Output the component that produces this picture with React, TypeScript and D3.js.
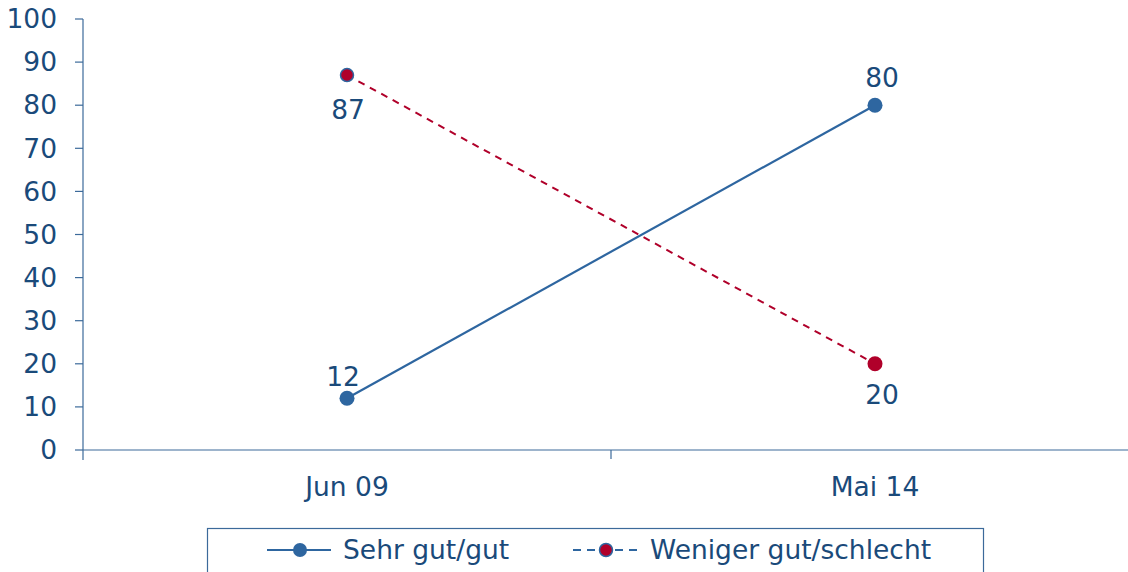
import React from "react";
import * as d3 from "d3";

const categories = ["Jun 09", "Mai 14"];
const seriesNames = ["Sehr gut/gut", "Weniger gut/schlecht"];
const sehrGut = [12, 80];
const weniger = [87, 20];
const yTicks = [0, 10, 20, 30, 40, 50, 60, 70, 80, 90, 100];

const W = 1128;
const H = 572;
const TEXT = "#1a4a7a";
const BLUE = "#2e66a0";
const RED = "#b0002a";
const AXIS = "#3c6a9a";
const FONT = "'DejaVu Sans', Verdana, sans-serif";

export default function App() {
  const left = 83;
  const x = d3.scaleBand<string>().domain(categories).range([left, left + 1056]);
  const y = d3.scaleLinear().domain([0, 100]).range([450, 19]);
  const cx = (c: string) => (x(c) as number) + x.bandwidth() / 2;
  const line = d3
    .line<number>()
    .x((_, i) => cx(categories[i]))
    .y((d) => y(d));

  const fs = 26.5;
  const aboveOff = [-22, -27];
  const belowOff = [35, 31];
  return (
    <svg width={W} height={H} style={{ position: "absolute", left: 0, top: 0 }} fontFamily={FONT}>
      <rect width={W} height={H} fill="#fff" />
      {/* y axis */}
      <line x1={left} x2={left} y1={y(100)} y2={y(0) + 10} stroke={AXIS} strokeWidth={1.2} />
      {yTicks.map((t) => (
        <g key={t}>
          <line x1={left - 8} x2={left} y1={y(t)} y2={y(t)} stroke={AXIS} strokeWidth={1.2} />
          <text x={57} y={y(t)} dy="0.35em" textAnchor="end" fontSize={fs} fill={TEXT}>
            {t}
          </text>
        </g>
      ))}
      {/* x axis */}
      <line x1={left} x2={W} y1={y(0)} y2={y(0)} stroke={AXIS} strokeWidth={1.2} />
      {categories.map((c, i) => (
        <g key={c}>
          {i > 0 && (
            <line x1={x(c)} x2={x(c)} y1={y(0)} y2={y(0) + 9} stroke={AXIS} strokeWidth={1.2} />
          )}
          <text x={cx(c)} y={487} dy="0.35em" textAnchor="middle" fontSize={fs} fill={TEXT}>
            {c}
          </text>
        </g>
      ))}
      {/* series lines */}
      <path d={line(sehrGut) || ""} fill="none" stroke={BLUE} strokeWidth={2.2} />
      <path d={line(weniger) || ""} fill="none" stroke={RED} strokeWidth={2} strokeDasharray="7,6" />
      {sehrGut.map((v, i) => (
        <circle key={"b" + i} cx={cx(categories[i])} cy={y(v)} r={7.5} fill={BLUE} />
      ))}
      {weniger.map((v, i) => (
        <circle key={"r" + i} cx={cx(categories[i])} cy={y(v)} r={i === 0 ? 6.5 : 7.5} fill={RED} stroke={i === 0 ? BLUE : "none"} strokeWidth={1.5} />
      ))}
      {/* data labels */}
      {sehrGut.map((v, i) => (
        <text key={"lb" + i} x={cx(categories[i]) + (i === 0 ? -4 : 7)} y={y(v) + aboveOff[i]} dy="0.35em" textAnchor="middle" fontSize={fs} fill={TEXT}>
          {v}
        </text>
      ))}
      {weniger.map((v, i) => (
        <text key={"lr" + i} x={cx(categories[i]) + (i === 0 ? 1 : 7)} y={y(v) + belowOff[i]} dy="0.35em" textAnchor="middle" fontSize={fs} fill={TEXT}>
          {v}
        </text>
      ))}
      {/* legend */}
      <rect x={207.5} y={528.5} width={776} height={60} fill="none" stroke={AXIS} strokeWidth={1.2} />
      <line x1={267} x2={331} y1={550} y2={550} stroke={BLUE} strokeWidth={2.2} />
      <circle cx={300} cy={550} r={7} fill={BLUE} />
      <text x={343} y={550} dy="0.35em" fontSize={fs} fill={TEXT}>
        {seriesNames[0]}
      </text>
      <line x1={573} x2={637} y1={550} y2={550} stroke={BLUE} strokeWidth={2} strokeDasharray="8,6" />
      <circle cx={606} cy={550} r={6.5} fill={RED} stroke={BLUE} strokeWidth={1.5} />
      <text x={650} y={550} dy="0.35em" fontSize={fs} fill={TEXT}>
        {seriesNames[1]}
      </text>
    </svg>
  );
}
